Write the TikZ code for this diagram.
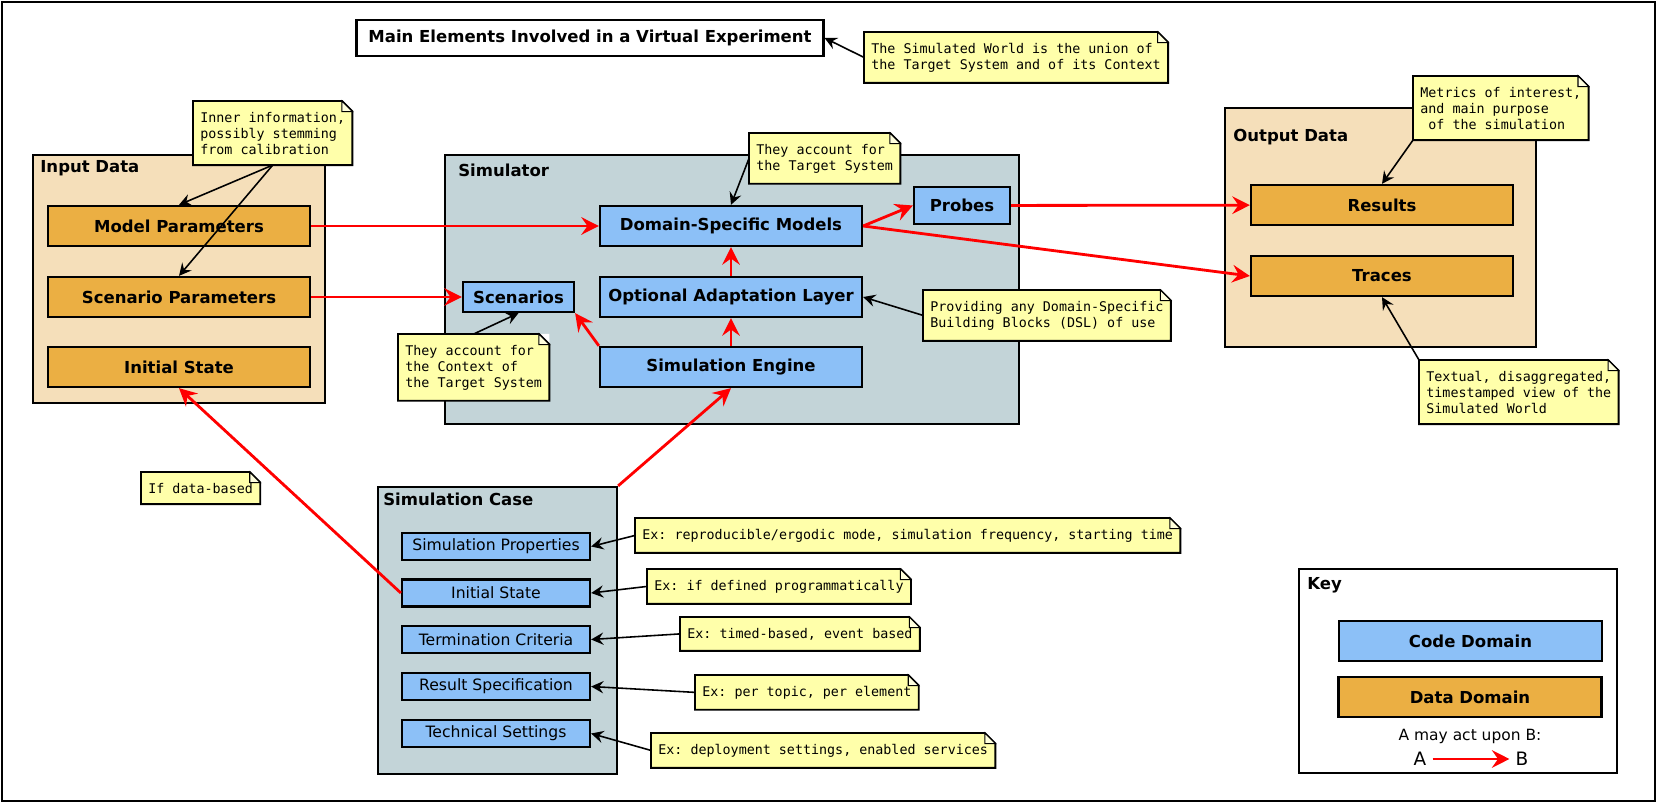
\documentclass[tikz,border=0pt]{standalone}
\usepackage{fontspec}
\setsansfont{DejaVu Sans}
\setmonofont{DejaVu Sans Mono}
\usetikzlibrary{arrows.meta}

\definecolor{codeblue}{RGB}{140,192,247}
\definecolor{dataorange}{RGB}{235,175,67}
\definecolor{datapanel}{RGB}{245,223,186}
\definecolor{codepanel}{RGB}{195,212,216}
\definecolor{noteyellow}{RGB}{255,255,170}

\begin{document}
\begin{tikzpicture}[
  x=0.02cm, y=-0.02cm,
  box/.style={draw,line width=1.3pt,inner sep=0pt},
  code/.style={box,fill=codeblue,minimum width=5.24cm,minimum height=0.8cm,font=\fontsize{9.4}{11}\sffamily\bfseries},
  data/.style={box,fill=dataorange,minimum width=5.24cm,minimum height=0.8cm,font=\fontsize{9.4}{11}\sffamily\bfseries},
  item/.style={box,fill=codeblue,minimum width=3.76cm,minimum height=0.54cm,font=\fontsize{8.9}{10}\sffamily},
  datagroup/.style={box,fill=datapanel},
  codegroup/.style={box,fill=codepanel},
  grouptitle/.style={anchor=west,inner sep=0pt,font=\fontsize{9.4}{11}\sffamily\bfseries},
  note/.style={fill=noteyellow,anchor=north west,align=left,inner xsep=4pt,inner ysep=6pt,font=\fontsize{7.6}{9.1}\ttfamily},
  act/.style={red,line width=1.6pt,-{Stealth[length=10pt,width=10pt,inset=3.5pt]}},
  link/.style={line width=0.9pt,-{Stealth[length=7pt,width=7pt,inset=2.5pt]}}
]
  \useasboundingbox (0,0) rectangle (1658,803);
  \draw[line width=1.4pt] (2,2) rectangle (1655,801);

  % title
  \node[box,minimum width=9.34cm,minimum height=0.72cm,font=\fontsize{9.4}{11}\sffamily\bfseries] (title) at (590,38) {Main Elements Involved in a Virtual Experiment};

  % groups
  \node[datagroup,minimum width=5.84cm,minimum height=4.96cm] (input) at (179,279) {};
  \node[codegroup,minimum width=11.48cm,minimum height=5.38cm] (sim) at (732,289.5) {};
  \node[datagroup,minimum width=6.22cm,minimum height=4.78cm] (output) at (1380.5,227.5) {};
  \node[codegroup,minimum width=4.78cm,minimum height=5.74cm] (case) at (497.5,630.5) {};
  \node[box,fill=white,minimum width=6.36cm,minimum height=4.08cm] (key) at (1458,671) {};

  \node[grouptitle] (tin) at (40,168) {Input Data};
  \node[grouptitle] (tsim) at (458,170) {Simulator};
  \node[grouptitle] (tout) at (1233,137) {Output Data};
  \node[grouptitle] (tcase) at (383,499) {Simulation Case};
  \node[grouptitle] (tkey) at (1307,585) {Key};

  % input data
  \node[data] (mparams) at (179,226) {Model Parameters};
  \node[data] (sparams) at (179,297) {Scenario Parameters};
  \node[data] (istate) at (179,367) {Initial State};

  % simulator
  \node[code] (dsm) at (731,226) {Domain-Specific Models};
  \node[code] (oal) at (731,297) {Optional Adaptation Layer};
  \node[code] (engine) at (731,367) {Simulation Engine};
  \node[code,minimum width=2.22cm,minimum height=0.6cm] (scen) at (518.5,297) {Scenarios};
  \node[code,minimum width=1.92cm,minimum height=0.74cm] (probes) at (962,205.5) {Probes};

  % output data
  \node[data] (results) at (1382,205) {Results};
  \node[data] (traces) at (1382,276) {Traces};

  % simulation case
  \node[item] (cprops) at (496,546.5) {Simulation Properties};
  \node[item] (cinit) at (496,593) {Initial State};
  \node[item] (cterm) at (496,639.5) {Termination Criteria};
  \node[item] (cres) at (496,686.5) {Result Specification};
  \node[item] (ctech) at (496,733.5) {Technical Settings};

  % key
  \node[code,minimum width=5.26cm] (kcode) at (1470.5,641) {Code Domain};
  \node[data,minimum width=5.26cm] (kdata) at (1470,697) {Data Domain};
  \node[font=\fontsize{8.8}{10}\sffamily] (kact) at (1470,736) {A may act upon B:};
  \node[font=\fontsize{10.5}{12}\sffamily] (ka) at (1420,759) {A};
  \node[font=\fontsize{10.5}{12}\sffamily] (kb) at (1522,759) {B};

  % notes
  \node[note] (calib) at (193,101) {Inner information,\\possibly stemming\\from calibration};
  \node[note] (world) at (864,32) {The Simulated World is the union of\\the Target System and of its Context};
  \node[note] (target) at (749,133) {They account for\\the Target System};
  \node[note] (context) at (398,334) {They account for\\the Context of\\the Target System};
  \node[note] (dsl) at (923,290) {Providing any Domain-Specific\\Building Blocks (DSL) of use};
  \node[note] (metrics) at (1413,76) {Metrics of interest,\\and main purpose\\\ of the simulation};
  \node[note] (textual) at (1419,360) {Textual, disaggregated,\\timestamped view of the\\Simulated World};
  \node[note] (ifdata) at (141,472) {If data-based};
  \node[note] (exprop) at (635,518) {Ex: reproducible/ergodic mode, simulation frequency, starting time};
  \node[note] (exinit) at (647,569) {Ex: if defined programmatically};
  \node[note] (exterm) at (680,617) {Ex: timed-based, event based};
  \node[note] (exres) at (695,675) {Ex: per topic, per element};
  \node[note] (extech) at (651,733) {Ex: deployment settings, enabled services};

  \foreach \n in {calib,world,target,context,dsl,metrics,textual,ifdata,exprop,exinit,exterm,exres,extech} {
    \fill[white] ([xshift=-6pt]\n.north east) -- (\n.north east) -- ([yshift=-6pt]\n.north east) -- cycle;
    \draw[line width=1.1pt] (\n.south west) -- (\n.north west) -- ([xshift=-6pt]\n.north east)
      -- ([yshift=-6pt]\n.north east) -- (\n.south east) -- cycle;
    \draw[line width=0.6pt,fill=noteyellow!40!white] ([xshift=-6pt]\n.north east)
      -- ([xshift=-6pt,yshift=-6pt]\n.north east) -- ([yshift=-6pt]\n.north east) -- cycle;
  }

  % acts upon
  \draw[act] (mparams) -- (dsm);
  \draw[act] (sparams) -- (scen);
  \draw[act] (engine) -- (oal);
  \draw[act] (oal) -- (dsm);
  \draw[act] (engine.north west) -- (scen.south east);
  \draw[act] (dsm.east) -- (probes.west);
  \draw[act] (dsm.east) -- (traces.west);
  \draw[act] (probes) -- (results);
  \draw[act] (case.north east) -- (engine.south);
  \draw[act] (cinit.west) -- (istate.south);
  \draw[act,line width=1.5pt] (ka) -- (kb);

  % comments
  \draw[link] (calib.south) -- (mparams.north);
  \draw[link] (calib.south) -- (sparams.north);
  \draw[link] (world.west) -- (title.east);
  \draw[link] (target.west) -- (dsm.north);
  \draw[link] (context.north) -- (scen.south);
  \draw[link] (dsl.west) -- (oal.east);
  \draw[link] (metrics.south west) -- (results.north);
  \draw[link] (textual.north west) -- (traces.south);
  \draw[link] (exprop.west) -- (cprops.east);
  \draw[link] (exinit.west) -- (cinit.east);
  \draw[link] (exterm.west) -- (cterm.east);
  \draw[link] (exres.west) -- (cres.east);
  \draw[link] (extech.west) -- (ctech.east);
\end{tikzpicture}
\end{document}
